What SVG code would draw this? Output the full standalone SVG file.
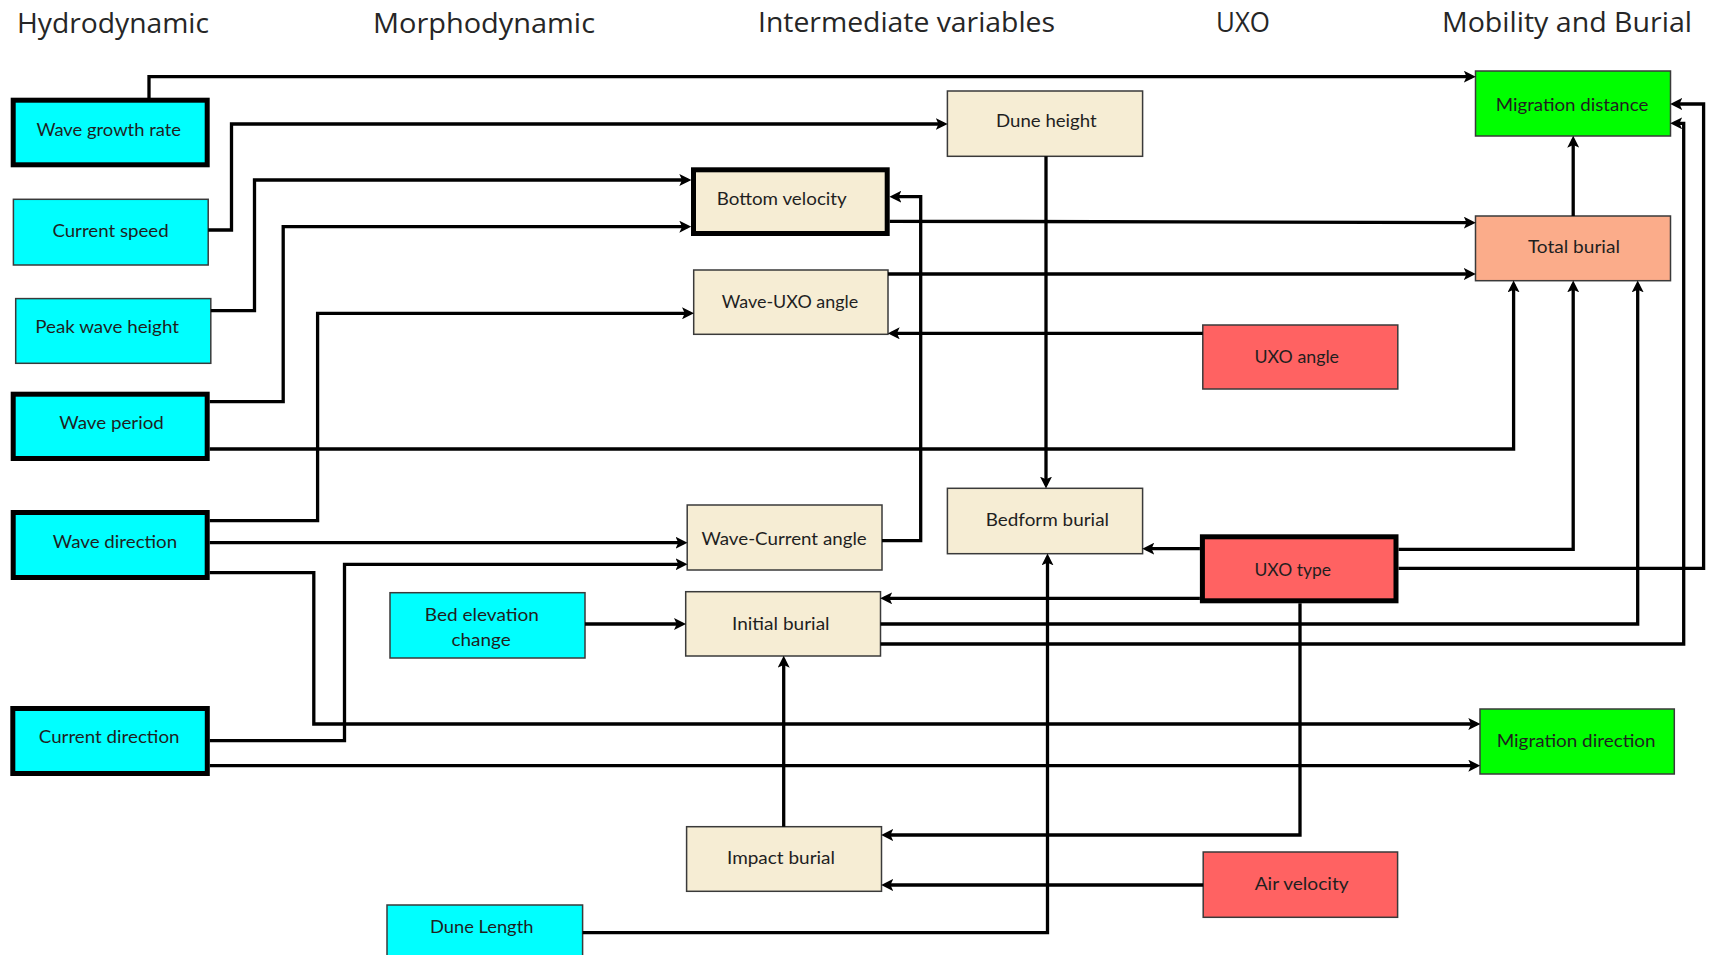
<svg xmlns="http://www.w3.org/2000/svg" width="1709" height="955" viewBox="0 0 1709 955">
<style>
  .title{font-family:"Open Sans","Liberation Sans",sans-serif;font-size:28px;fill:#262626}
  .lbl{font-family:Lato,"Liberation Sans",sans-serif;font-size:18px;fill:#1f1f1f}
  .thin{stroke:#3a3a3a;stroke-width:1.5}
  .thick{stroke:#000;stroke-width:5}
  .cyan{fill:#00ffff}
  .tan{fill:#f6edd4}
  .red{fill:#ff6262}
  .green{fill:#00ff00}
  .salmon{fill:#fbac8a}
  .conn path{fill:none;stroke:#000;stroke-width:3.3;marker-end:url(#arr)}
</style>
<defs>
  <marker id="arr" markerUnits="userSpaceOnUse" markerWidth="12" markerHeight="12" viewBox="0 0 11 11" refX="7.5" refY="5.5" orient="auto">
    <path d="M0,0 L11,5.5 L0,11 L2.5,5.5 z" fill="#000"/>
  </marker>
</defs>
<rect width="1709" height="955" fill="#fff"/>

<g id="titles">
  <text class="title" x="17" y="33" textLength="192" lengthAdjust="spacingAndGlyphs">Hydrodynamic</text>
  <text class="title" x="373" y="33" textLength="222" lengthAdjust="spacingAndGlyphs">Morphodynamic</text>
  <text class="title" x="758" y="32" textLength="297" lengthAdjust="spacingAndGlyphs">Intermediate variables</text>
  <text class="title" x="1216" y="32" textLength="54" lengthAdjust="spacingAndGlyphs">UXO</text>
  <text class="title" x="1442" y="32" textLength="250" lengthAdjust="spacingAndGlyphs">Mobility and Burial</text>
</g>

<g id="wave-growth-rate"><rect class="cyan thick" x="13.2" y="100.2" width="194" height="64.6"/><text class="lbl" x="36.4" y="136" textLength="144.6" lengthAdjust="spacingAndGlyphs">Wave growth rate</text></g>
<g id="current-speed"><rect class="cyan thin" x="13.4" y="199.3" width="194.8" height="65.7"/><text class="lbl" x="52.4" y="236.7" textLength="116.3" lengthAdjust="spacingAndGlyphs">Current speed</text></g>
<g id="peak-wave-height"><rect class="cyan thin" x="15.7" y="298.6" width="195.1" height="64.7"/><text class="lbl" x="35.2" y="332.7" textLength="143.8" lengthAdjust="spacingAndGlyphs">Peak wave height</text></g>
<g id="wave-period"><rect class="cyan thick" x="13.2" y="394.2" width="194" height="64.3"/><text class="lbl" x="59.3" y="429" textLength="104.5" lengthAdjust="spacingAndGlyphs">Wave period</text></g>
<g id="wave-direction"><rect class="cyan thick" x="13.2" y="512.5" width="194" height="65"/><text class="lbl" x="52.8" y="548.3" textLength="124.4" lengthAdjust="spacingAndGlyphs">Wave direction</text></g>
<g id="current-direction"><rect class="cyan thick" x="12.8" y="708.5" width="194.5" height="65"/><text class="lbl" x="38.8" y="742.7" textLength="140.7" lengthAdjust="spacingAndGlyphs">Current direction</text></g>
<g id="bed-elevation-change"><rect class="cyan thin" x="390" y="592.7" width="195" height="65.3"/><text class="lbl" x="424.8" y="620.7" textLength="114" lengthAdjust="spacingAndGlyphs">Bed elevation</text><text class="lbl" x="451.5" y="646" textLength="59.3" lengthAdjust="spacingAndGlyphs">change</text></g>
<g id="dune-length"><rect class="cyan thin" x="387" y="905" width="195.6" height="65"/><text class="lbl" x="430" y="933.3" textLength="103.4" lengthAdjust="spacingAndGlyphs">Dune Length</text></g>

<g id="dune-height"><rect class="tan thin" x="947.4" y="91" width="195.2" height="65.3"/><text class="lbl" x="996" y="126.7" textLength="100.7" lengthAdjust="spacingAndGlyphs">Dune height</text></g>
<g id="bottom-velocity"><rect class="tan thick" x="693.5" y="169.8" width="193.7" height="63.7"/><text class="lbl" x="716.7" y="205" textLength="130.1" lengthAdjust="spacingAndGlyphs">Bottom velocity</text></g>
<g id="wave-uxo-angle"><rect class="tan thin" x="693.7" y="270" width="194.3" height="64.3"/><text class="lbl" x="721.7" y="307.5" textLength="136.6" lengthAdjust="spacingAndGlyphs">Wave-UXO angle</text></g>
<g id="wave-current-angle"><rect class="tan thin" x="687.2" y="505" width="194.8" height="65"/><text class="lbl" x="701.4" y="545" textLength="165.3" lengthAdjust="spacingAndGlyphs">Wave-Current angle</text></g>
<g id="bedform-burial"><rect class="tan thin" x="947.4" y="488.3" width="195.2" height="65.4"/><text class="lbl" x="985.7" y="525.7" textLength="123.3" lengthAdjust="spacingAndGlyphs">Bedform burial</text></g>
<g id="initial-burial"><rect class="tan thin" x="685.7" y="591.7" width="194.8" height="64.3"/><text class="lbl" x="732" y="630" textLength="97.6" lengthAdjust="spacingAndGlyphs">Initial burial</text></g>
<g id="impact-burial"><rect class="tan thin" x="686.6" y="826.7" width="194.9" height="64.6"/><text class="lbl" x="727" y="864" textLength="108" lengthAdjust="spacingAndGlyphs">Impact burial</text></g>

<g id="uxo-angle"><rect class="red thin" x="1202.8" y="325" width="195" height="64"/><text class="lbl" x="1254.5" y="363.3" textLength="84.5" lengthAdjust="spacingAndGlyphs">UXO angle</text></g>
<g id="uxo-type"><rect class="red thick" x="1202.4" y="536.8" width="193.6" height="64"/><text class="lbl" x="1254.5" y="576" textLength="76.5" lengthAdjust="spacingAndGlyphs">UXO type</text></g>
<g id="air-velocity"><rect class="red thin" x="1203.2" y="852" width="194.4" height="65.3"/><text class="lbl" x="1254.7" y="890" textLength="93.9" lengthAdjust="spacingAndGlyphs">Air velocity</text></g>

<g id="migration-distance"><rect class="green thin" x="1475.5" y="71" width="195" height="65"/><text class="lbl" x="1495.8" y="111" textLength="152.6" lengthAdjust="spacingAndGlyphs">Migration distance</text></g>
<g id="total-burial"><rect class="salmon thin" x="1475.5" y="216" width="195" height="64.7"/><text class="lbl" x="1527.9" y="253.3" textLength="92" lengthAdjust="spacingAndGlyphs">Total burial</text></g>
<g id="migration-direction"><rect class="green thin" x="1480" y="709" width="194.3" height="65"/><text class="lbl" x="1496.7" y="746.7" textLength="158.9" lengthAdjust="spacingAndGlyphs">Migration direction</text></g>

<g id="connectors" class="conn">
  <path d="M149,100 V76.7 H1472"/>
  <path d="M208.2,230 H231.5 V124 H943.9"/>
  <path d="M210.8,310.7 H254.5 V180 H687.5"/>
  <path d="M209.7,401.7 H283.2 V226.7 H687.5"/>
  <path d="M209.7,520.7 H317.6 V313.3 H690.2"/>
  <path d="M209.7,542.7 H683.7"/>
  <path d="M209.7,572.7 H313.8 V724 H1476.5"/>
  <path d="M209.8,740.7 H344.5 V564.3 H683.7"/>
  <path d="M209.8,765.7 H1476.5"/>
  <path d="M585,624 H682.2"/>
  <path d="M582.6,932.7 H1047.5 V557.2"/>
  <path d="M1046,156.3 V484.8"/>
  <path d="M889.7,221.3 L1180,221.8 L1472,222.7"/>
  <path d="M888,274 H1472"/>
  <path d="M1202.8,333.3 H891.5"/>
  <path d="M882,540.7 H920.7 V196.7 H893.2"/>
  <path d="M209.7,449 H1513.6 V284.2"/>
  <path d="M1398.5,549.3 H1573.2 V284.2"/>
  <path d="M1398.5,568.3 H1703.6 V104 H1674"/>
  <path d="M1199.9,548.7 H1146.1"/>
  <path d="M1199.9,598.3 H884"/>
  <path d="M880.5,624 H1637.7 V284.2"/>
  <path d="M880.5,644 H1683.7 V123.3 H1674"/>
  <path d="M1300,603.3 V835 H885"/>
  <path d="M1203.2,885 H885"/>
  <path d="M783.7,826.7 V659.5"/>
  <path d="M1573.2,216 V139.5"/>
</g>
</svg>
